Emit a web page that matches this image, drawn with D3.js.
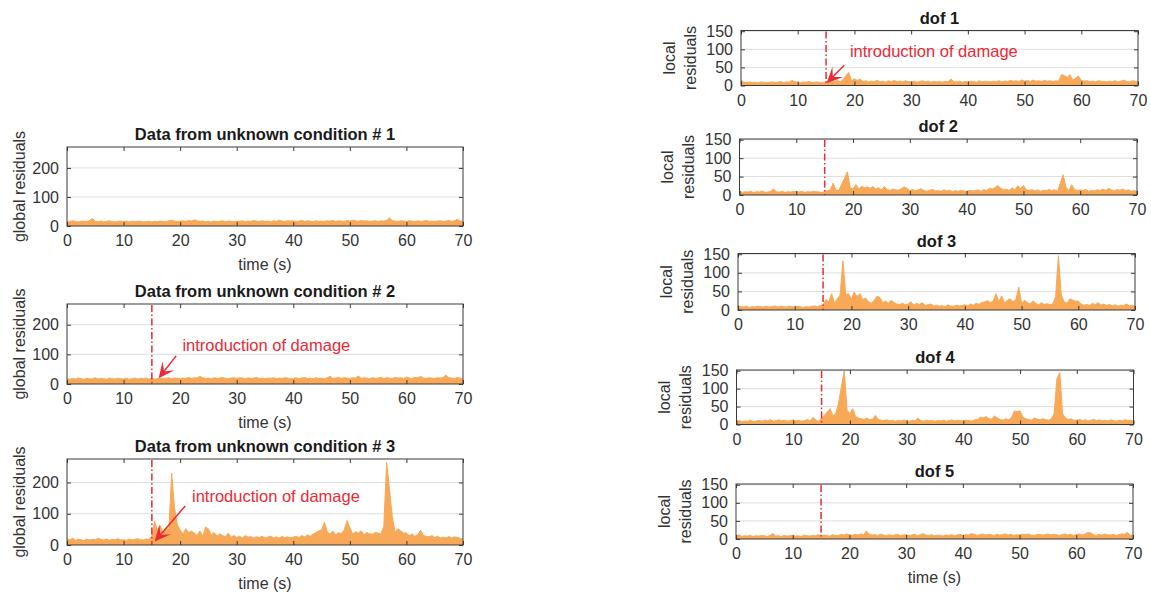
<!DOCTYPE html>
<html>
<head>
<meta charset="utf-8">
<script src="https://cdn.jsdelivr.net/npm/d3@7"></script>
<style>
  body { margin: 0; background: #fff; }
  svg { font-family: "Liberation Sans", Arial, Helvetica, sans-serif; }
</style>
</head>
<body>
<svg id="svg" width="1151" height="599"></svg>
<script>
// sample spacing of the residual series (seconds)
const dt = 0.5;

// global residuals, one value every 0.5 s from 0 to 70 s
const cond1 = [
  17,15,18,16,14,17,16,15,19,26, 16,15,17,14,16,18,15,14,16,17,
  15,17,14,16,15,17,16,14,15,16, 14,16,15,17,16,15,18,20,17,16,
  17,18,16,19,17,21,18,16,17,15, 16,14,17,15,16,18,15,17,16,15,
  17,16,18,15,17,16,19,17,16,18, 16,17,15,18,16,20,17,16,18,17,
  18,16,17,19,16,18,17,15,18,16, 17,16,18,17,19,16,18,17,16,19,
  17,20,18,16,19,17,18,16,17,18, 16,18,17,19,28,18,17,16,18,17,
  16,18,17,15,18,16,17,19,16,17, 16,17,18,16,17,19,16,18,23,17,
  16];
const cond2 = [
  18,16,19,17,20,18,16,19,17,18, 21,17,19,18,16,20,18,17,19,18,
  17,19,16,18,20,17,19,18,20,17, 19,17,18,20,18,19,21,18,20,19,
  18,20,19,22,19,21,20,26,21,19, 20,18,21,19,20,22,19,18,20,21,
  19,21,20,18,21,19,20,22,19,20, 18,20,19,21,18,20,19,21,20,18,
  19,21,18,20,22,19,20,18,21,19, 20,18,21,26,19,20,22,19,21,20,
  19,21,20,27,19,21,20,18,21,19, 20,22,19,21,20,19,22,20,21,19,
  24,20,19,22,21,26,20,19,21,20, 19,21,20,22,30,21,20,19,22,20,
  18];
const cond3 = [
  20,16,22,15,18,17,14,19,16,18, 17,21,18,16,19,15,18,17,20,16,
  17,15,19,16,18,20,17,16,19,18, 28,76,45,62,38,55,48,230,120,65,
  48,35,52,40,44,38,30,45,28,57, 52,32,40,28,36,30,26,38,25,30,
  24,28,22,30,25,27,22,26,24,28, 22,25,28,23,26,22,27,24,26,23,
  25,28,24,30,26,32,28,35,40,45, 48,73,42,35,45,32,40,36,48,78,
  55,35,42,38,45,32,40,36,34,40, 38,35,60,265,180,90,40,52,45,38,
  38,30,35,28,33,47,30,28,26,30, 24,28,22,25,23,27,22,26,24,21,
  20];

// local residuals per degree of freedom
const dof1 = [
  16,9,8,10,8,9,7,10,9,8, 9,10,8,9,11,8,10,9,14,10,
  9,8,10,9,11,8,9,10,8,9, 10,11,9,12,14,10,16,27,36,12,
  19,14,18,11,13,10,12,11,14,10, 12,9,13,10,14,11,12,10,13,11,
  10,12,9,11,13,10,12,9,11,10, 11,9,12,10,18,11,10,12,9,11,
  10,12,11,9,13,10,12,11,10,12, 11,13,10,12,11,14,12,13,11,15,
  12,14,11,15,12,13,11,14,12,13, 11,13,12,30,28,22,30,15,20,26,
  14,12,13,11,12,10,13,12,11,10, 12,11,13,10,12,15,11,10,13,12,
  9];
const dof2 = [
  10,7,9,8,10,7,9,8,11,7, 8,10,16,9,8,10,7,9,8,10,
  9,8,10,7,9,8,10,9,8,7, 9,12,14,32,13,12,30,45,63,20,
  17,28,16,24,20,22,18,23,16,20, 14,23,15,12,16,14,13,17,22,18,
  12,15,11,14,17,12,10,13,15,11, 12,10,14,11,13,9,12,10,13,11,
  10,13,11,12,14,10,15,12,18,16, 20,26,18,14,16,12,20,14,25,18,
  26,14,12,15,11,14,10,13,12,15, 12,14,10,32,55,20,13,28,15,12,
  14,12,15,10,13,11,14,12,16,12, 18,14,11,15,13,16,12,14,10,12,
  10];
const dof3 = [
  12,9,8,10,7,9,8,10,9,8, 10,8,9,11,8,10,9,8,10,9,
  8,10,9,7,9,8,10,11,9,12, 14,28,22,44,18,30,40,132,42,44,
  30,48,36,44,28,32,22,18,26,37, 34,20,24,18,26,20,16,15,18,14,
  16,22,13,18,15,20,12,14,16,11, 13,10,12,9,14,11,10,13,11,12,
  14,11,16,13,18,15,20,22,25,20, 24,44,22,38,18,26,30,22,28,62,
  18,26,20,16,24,18,14,20,15,17, 14,16,36,146,40,22,18,30,27,24,
  24,16,13,15,12,18,14,20,13,16, 12,15,11,14,10,13,12,16,11,13,
  10];
const dof4 = [
  9,11,8,10,9,12,8,10,11,9, 12,10,14,9,11,13,10,12,9,11,
  13,10,12,9,11,14,10,20,12,9, 18,26,35,44,24,30,60,105,150,40,
  30,44,22,18,16,14,18,13,15,25, 14,12,11,13,10,12,9,11,10,12,
  11,9,12,10,18,11,9,12,10,11, 9,11,10,12,9,11,13,10,12,11,
  10,12,11,9,13,14,20,18,22,16, 15,24,18,14,12,16,13,20,38,36,
  38,20,16,14,12,18,15,13,16,14, 12,15,30,128,145,30,18,14,16,12,
  12,14,11,13,10,12,14,11,13,10, 12,10,13,11,9,12,10,13,11,12,
  9];
const dof5 = [
  8,12,7,9,8,10,7,9,8,10, 9,7,10,15,8,9,7,10,8,9,
  10,8,9,7,11,9,8,10,9,12, 9,11,10,8,12,10,9,13,11,14,
  12,10,13,11,14,12,22,13,11,12, 10,13,11,9,12,10,11,13,9,11,
  12,10,11,13,9,12,15,11,10,12, 9,11,10,8,11,10,12,9,11,13,
  10,12,11,15,13,10,12,14,11,13, 12,10,13,11,12,14,11,13,10,12,
  11,13,12,14,11,10,12,13,11,12, 14,11,13,12,10,12,14,11,13,10,
  12,14,11,13,18,17,12,10,13,11, 14,12,11,13,10,12,14,13,18,11,
  10];

const xTicks = [0, 10, 20, 30, 40, 50, 60, 70];
const globalTicks = [0, 100, 200];
const localTicks = [0, 50, 100, 150];
const damageTime = 15;

// panel layout (pixel boxes)
const panels = [
  { data: cond1, box: [67, 147, 463, 226], ymax: 272, ticks: globalTicks, title: "Data from unknown condition # 1", ylab: ["global residuals"], xlab: true },
  { data: cond2, box: [67, 304, 463, 384], ymax: 270, ticks: globalTicks, title: "Data from unknown condition # 2", ylab: ["global residuals"], xlab: true, damage: true,
    note: { text: [20.4, 110], tail: [19.3, 95], tip: [16.2, 19] } },
  { data: cond3, box: [67, 459, 463, 545], ymax: 275, ticks: globalTicks, title: "Data from unknown condition # 3", ylab: ["global residuals"], xlab: true, damage: true,
    note: { text: [22.1, 138], tail: [20.9, 125], tip: [15.5, 11] } },
  { data: dof1, box: [741, 30.5, 1138, 85.5], ymax: 152, ticks: localTicks, title: "dof 1", ylab: ["local", "residuals"], damage: true,
    note: { text: [19.2, 78], tail: [18.2, 56], tip: [15.1, 6] } },
  { data: dof2, box: [739.5, 139, 1137, 195], ymax: 152, ticks: localTicks, title: "dof 2", ylab: ["local", "residuals"], damage: true },
  { data: dof3, box: [738, 253.5, 1135, 310], ymax: 152, ticks: localTicks, title: "dof 3", ylab: ["local", "residuals"], damage: true },
  { data: dof4, box: [736.5, 370, 1133.5, 424.5], ymax: 152, ticks: localTicks, title: "dof 4", ylab: ["local", "residuals"], damage: true },
  { data: dof5, box: [736, 484, 1133, 539], ymax: 152, ticks: localTicks, title: "dof 5", ylab: ["local", "residuals"], xlab: true, damage: true }
];

const svg = d3.select("#svg");
const axisColor = "#3a3a3a";
const textColor = "#333333";
const lineColor = "#f8a958";
const red = "#ea2a35";

panels.forEach(drawPanel);

function drawPanel(p) {
  const [left, top, right, bottom] = p.box;
  const x = d3.scaleLinear().domain([0, 70]).range([left, right]);
  const y = d3.scaleLinear().domain([0, p.ymax]).range([bottom, top]);
  const g = svg.append("g");

  // grid
  g.selectAll("line.grid").data(p.ticks.filter(d => d > 0)).join("line")
    .attr("x1", left).attr("x2", right)
    .attr("y1", d => y(d)).attr("y2", d => y(d))
    .attr("stroke", "#dedede").attr("stroke-width", 1);

  // residual series
  const pts = p.data.map((v, i) => [i * dt, v]);
  g.append("path").datum(pts)
    .attr("d", d3.area().x(d => x(d[0])).y0(y(0)).y1(d => y(d[1])))
    .attr("fill", lineColor);
  g.append("path").datum(pts)
    .attr("d", d3.line().x(d => x(d[0])).y(d => y(d[1])))
    .attr("fill", "none").attr("stroke", lineColor).attr("stroke-width", 1);

  // damage marker, full height of the axes
  if (p.damage) {
    g.append("line")
      .attr("x1", x(damageTime)).attr("x2", x(damageTime))
      .attr("y1", y(p.ymax) + 1).attr("y2", y(0))
      .attr("stroke", red).attr("stroke-width", 1.5)
      .attr("stroke-dasharray", "7,2.5,1.5,2.5");
  }

  // box + inward ticks
  g.append("rect")
    .attr("x", left).attr("y", top)
    .attr("width", right - left).attr("height", bottom - top)
    .attr("fill", "none").attr("stroke", axisColor).attr("stroke-width", 1);

  const xa = g.append("g").attr("transform", `translate(0,${bottom})`)
    .call(d3.axisBottom(x).tickValues(xTicks).tickSize(-4).tickPadding(9));
  const xTop = g.append("g").attr("transform", `translate(0,${top})`)
    .call(d3.axisTop(x).tickValues(xTicks).tickSize(-4).tickFormat(""));
  const ya = g.append("g").attr("transform", `translate(${left},0)`)
    .call(d3.axisLeft(y).tickValues(p.ticks).tickSize(-4).tickPadding(8));
  const yRight = g.append("g").attr("transform", `translate(${right},0)`)
    .call(d3.axisRight(y).tickValues(p.ticks).tickSize(-4).tickFormat(""));

  [xa, xTop, ya, yRight].forEach(a => {
    a.select(".domain").remove();
    a.selectAll(".tick line").attr("stroke", axisColor);
    a.selectAll("text").attr("fill", textColor).style("font-size", "16px");
  });

  // title
  g.append("text")
    .attr("x", (left + right) / 2).attr("y", top - 7)
    .attr("text-anchor", "middle")
    .style("font-size", "16.5px").style("font-weight", "bold")
    .attr("fill", "#1a1a1a")
    .text(p.title);

  // y label
  const cy = (top + bottom) / 2;
  if (p.ylab.length === 1) {
    g.append("text")
      .attr("transform", `translate(${left - 48},${cy}) rotate(-90)`)
      .attr("text-anchor", "middle").attr("dy", "0.35em")
      .style("font-size", "16px").attr("fill", textColor)
      .text(p.ylab[0]);
  } else {
    p.ylab.forEach((t, i) => {
      g.append("text")
        .attr("transform", `translate(${left - 72 + i * 21},${cy}) rotate(-90)`)
        .attr("text-anchor", "middle").attr("dy", "0.35em")
        .style("font-size", "16px").attr("fill", textColor)
        .text(t);
    });
  }

  // x label
  if (p.xlab) {
    g.append("text")
      .attr("x", (left + right) / 2).attr("y", bottom + 44)
      .attr("text-anchor", "middle")
      .style("font-size", "16px").attr("fill", textColor)
      .text("time (s)");
  }

  // annotation
  if (p.note) {
    g.append("text")
      .attr("x", x(p.note.text[0])).attr("y", y(p.note.text[1]))
      .style("font-size", "16.5px").attr("fill", red)
      .text("introduction of damage");
    drawArrow(g, x(p.note.tail[0]), y(p.note.tail[1]), x(p.note.tip[0]), y(p.note.tip[1]));
  }
}

function drawArrow(g, x1, y1, x2, y2) {
  const ang = Math.atan2(y2 - y1, x2 - x1);
  const len = 16, half = 7.5;
  g.append("line")
    .attr("x1", x1).attr("y1", y1)
    .attr("x2", x2 - Math.cos(ang) * 8).attr("y2", y2 - Math.sin(ang) * 8)
    .attr("stroke", red).attr("stroke-width", 1.5);
  // swept-back head, like matlab's vback2
  const head = [[0, 0], [-len, -half], [-len * 0.55, 0], [-len, half]].map(([u, v]) => [
    x2 + u * Math.cos(ang) - v * Math.sin(ang),
    y2 + u * Math.sin(ang) + v * Math.cos(ang)
  ]);
  g.append("path")
    .attr("d", "M" + head.join("L") + "Z")
    .attr("fill", red);
}
</script>
</body>
</html>
